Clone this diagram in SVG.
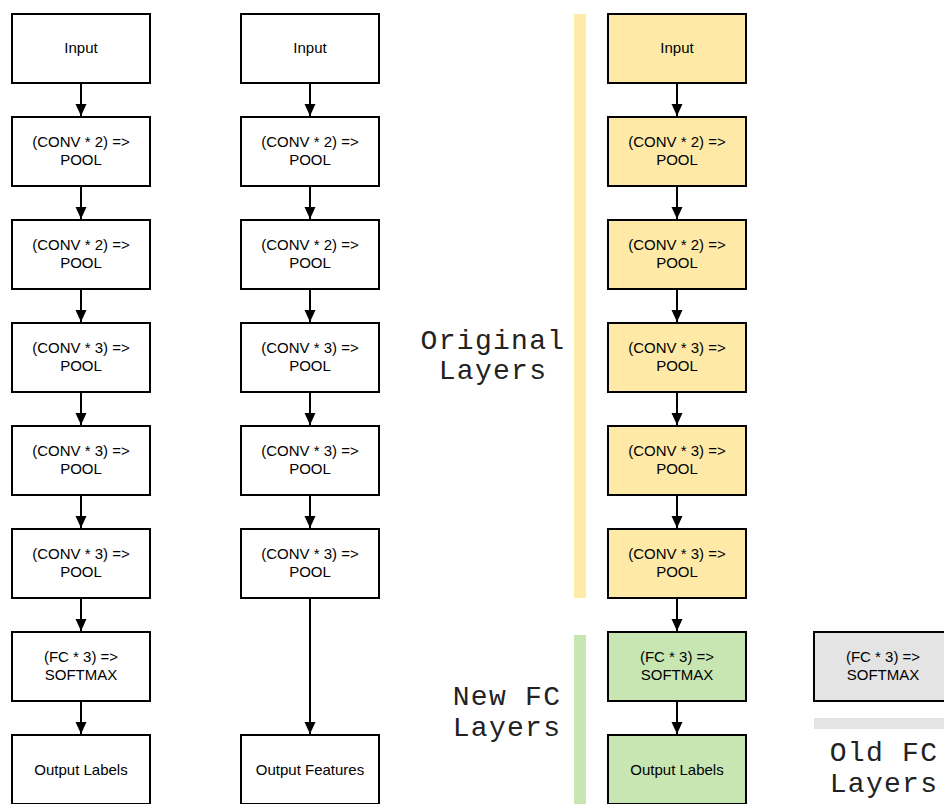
<svg xmlns="http://www.w3.org/2000/svg" width="944" height="804" viewBox="0 0 944 804">
<defs>
<style>
.n rect{stroke:#000;stroke-width:2}
.w{fill:#fff}.y{fill:#FFE9A6}.g{fill:#C8E6B2}.gr{fill:#E4E4E4}
.n text{font-family:"Liberation Sans",Arial,sans-serif;font-size:15px;fill:#000;text-anchor:middle}
.c line{stroke:#000;stroke-width:2;marker-end:url(#ah)}
.lbl{font-family:"Liberation Mono","Courier New",monospace;font-size:28px;letter-spacing:1.3px;fill:#222;text-anchor:middle}
</style>
<marker id="ah" markerUnits="userSpaceOnUse" markerWidth="12" markerHeight="12" refX="12" refY="5.5" orient="auto" viewBox="0 0 12 11">
<path d="M0,0 L12,5.5 L0,11 z" fill="#000"/>
</marker>
</defs>
<rect width="944" height="804" fill="#fff"/>
<g id="bars">
<rect x="574" y="14" width="12" height="584" fill="#FFEBA8"/>
<rect x="574" y="635" width="12" height="170" fill="#C8E6B2"/>
<rect x="814" y="718" width="131" height="11" fill="#E4E4E4"/>
</g>
<g id="labels">
<text class="lbl" x="493" y="349">Original</text>
<text class="lbl" x="493" y="379">Layers</text>
<text class="lbl" x="507" y="705">New FC</text>
<text class="lbl" x="507" y="736">Layers</text>
<text class="lbl" x="884" y="761">Old FC</text>
<text class="lbl" x="884" y="792">Layers</text>
</g>
<g id="connectors" class="c">
<line x1="81" y1="83" x2="81" y2="116"/>
<line x1="81" y1="186" x2="81" y2="219"/>
<line x1="81" y1="289" x2="81" y2="322"/>
<line x1="81" y1="392" x2="81" y2="425"/>
<line x1="81" y1="495" x2="81" y2="528"/>
<line x1="81" y1="598" x2="81" y2="631"/>
<line x1="81" y1="701" x2="81" y2="734"/>
<line x1="310" y1="83" x2="310" y2="116"/>
<line x1="310" y1="186" x2="310" y2="219"/>
<line x1="310" y1="289" x2="310" y2="322"/>
<line x1="310" y1="392" x2="310" y2="425"/>
<line x1="310" y1="495" x2="310" y2="528"/>
<line x1="310" y1="598" x2="310" y2="734"/>
<line x1="677" y1="83" x2="677" y2="116"/>
<line x1="677" y1="186" x2="677" y2="219"/>
<line x1="677" y1="289" x2="677" y2="322"/>
<line x1="677" y1="392" x2="677" y2="425"/>
<line x1="677" y1="495" x2="677" y2="528"/>
<line x1="677" y1="598" x2="677" y2="631"/>
<line x1="677" y1="701" x2="677" y2="734"/>
</g>
<g id="a1" class="n"><rect class="w" x="12" y="14" width="138" height="69"/><text x="81" y="53">Input</text></g>
<g id="a2" class="n"><rect class="w" x="12" y="117" width="138" height="69"/><text x="81" y="147">(CONV * 2) =&gt;</text><text x="81" y="165">POOL</text></g>
<g id="a3" class="n"><rect class="w" x="12" y="220" width="138" height="69"/><text x="81" y="250">(CONV * 2) =&gt;</text><text x="81" y="268">POOL</text></g>
<g id="a4" class="n"><rect class="w" x="12" y="323" width="138" height="69"/><text x="81" y="353">(CONV * 3) =&gt;</text><text x="81" y="371">POOL</text></g>
<g id="a5" class="n"><rect class="w" x="12" y="426" width="138" height="69"/><text x="81" y="456">(CONV * 3) =&gt;</text><text x="81" y="474">POOL</text></g>
<g id="a6" class="n"><rect class="w" x="12" y="529" width="138" height="69"/><text x="81" y="559">(CONV * 3) =&gt;</text><text x="81" y="577">POOL</text></g>
<g id="a7" class="n"><rect class="w" x="12" y="632" width="138" height="69"/><text x="81" y="662">(FC * 3) =&gt;</text><text x="81" y="680">SOFTMAX</text></g>
<g id="a8" class="n"><rect class="w" x="12" y="735" width="138" height="69"/><text x="81" y="775">Output Labels</text></g>
<g id="b1" class="n"><rect class="w" x="241" y="14" width="138" height="69"/><text x="310" y="53">Input</text></g>
<g id="b2" class="n"><rect class="w" x="241" y="117" width="138" height="69"/><text x="310" y="147">(CONV * 2) =&gt;</text><text x="310" y="165">POOL</text></g>
<g id="b3" class="n"><rect class="w" x="241" y="220" width="138" height="69"/><text x="310" y="250">(CONV * 2) =&gt;</text><text x="310" y="268">POOL</text></g>
<g id="b4" class="n"><rect class="w" x="241" y="323" width="138" height="69"/><text x="310" y="353">(CONV * 3) =&gt;</text><text x="310" y="371">POOL</text></g>
<g id="b5" class="n"><rect class="w" x="241" y="426" width="138" height="69"/><text x="310" y="456">(CONV * 3) =&gt;</text><text x="310" y="474">POOL</text></g>
<g id="b6" class="n"><rect class="w" x="241" y="529" width="138" height="69"/><text x="310" y="559">(CONV * 3) =&gt;</text><text x="310" y="577">POOL</text></g>
<g id="b8" class="n"><rect class="w" x="241" y="735" width="138" height="69"/><text x="310" y="775">Output Features</text></g>
<g id="c1" class="n"><rect class="y" x="608" y="14" width="138" height="69"/><text x="677" y="53">Input</text></g>
<g id="c2" class="n"><rect class="y" x="608" y="117" width="138" height="69"/><text x="677" y="147">(CONV * 2) =&gt;</text><text x="677" y="165">POOL</text></g>
<g id="c3" class="n"><rect class="y" x="608" y="220" width="138" height="69"/><text x="677" y="250">(CONV * 2) =&gt;</text><text x="677" y="268">POOL</text></g>
<g id="c4" class="n"><rect class="y" x="608" y="323" width="138" height="69"/><text x="677" y="353">(CONV * 3) =&gt;</text><text x="677" y="371">POOL</text></g>
<g id="c5" class="n"><rect class="y" x="608" y="426" width="138" height="69"/><text x="677" y="456">(CONV * 3) =&gt;</text><text x="677" y="474">POOL</text></g>
<g id="c6" class="n"><rect class="y" x="608" y="529" width="138" height="69"/><text x="677" y="559">(CONV * 3) =&gt;</text><text x="677" y="577">POOL</text></g>
<g id="c7" class="n"><rect class="g" x="608" y="632" width="138" height="69"/><text x="677" y="662">(FC * 3) =&gt;</text><text x="677" y="680">SOFTMAX</text></g>
<g id="c8" class="n"><rect class="g" x="608" y="735" width="138" height="69"/><text x="677" y="775">Output Labels</text></g>
<g id="d7" class="n"><rect class="gr" x="814" y="632" width="138" height="69"/><text x="883" y="662">(FC * 3) =&gt;</text><text x="883" y="680">SOFTMAX</text></g>
</svg>
